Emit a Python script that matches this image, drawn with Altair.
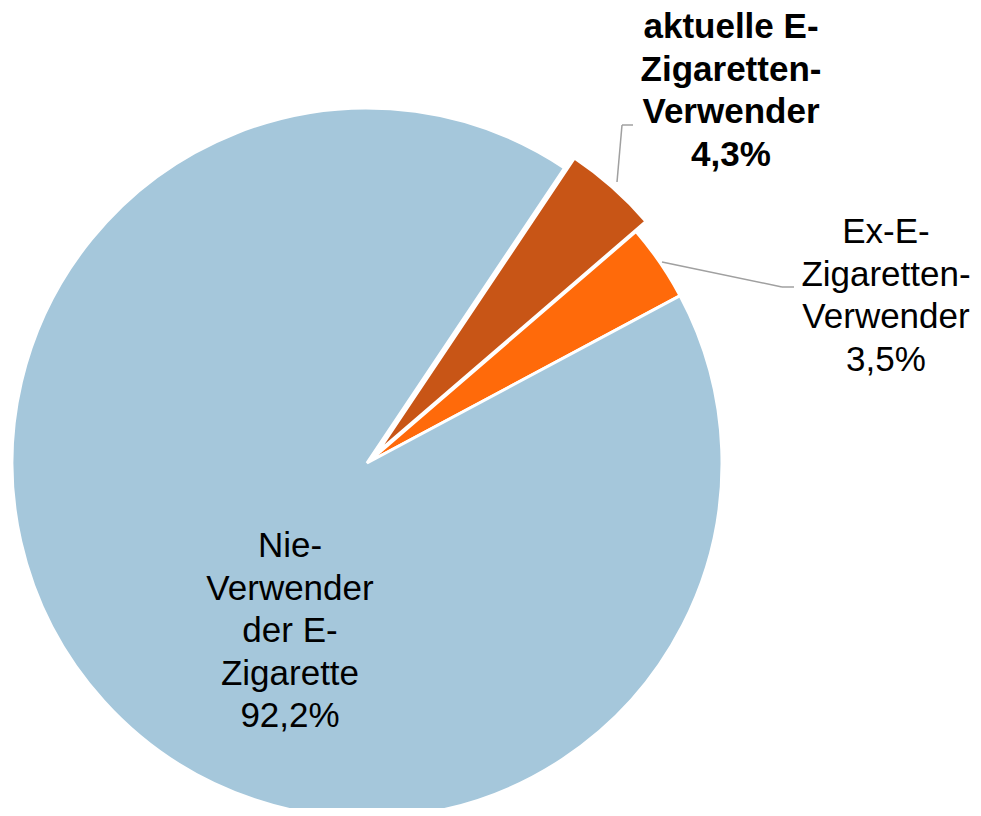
import altair as alt
import pandas as pd
import math

categories = ["aktuelle E-Zigaretten-Verwender", "Ex-E-Zigaretten-Verwender", "Nie-Verwender der E-Zigarette"]
values = [4.3, 3.5, 92.2]
order_idx = [0, 1, 2]
colors = ["#C85516", "#FF6A0A", "#A5C7DB"]

label_nie = "Nie-\nVerwender\nder E-\nZigarette\n92,2%"
label_akt = "aktuelle E-\nZigaretten-\nVerwender\n4,3%"
label_ex = "Ex-E-\nZigaretten-\nVerwender\n3,5%"

df = pd.DataFrame({"cat": categories, "value": values, "idx": order_idx})

start = math.radians(33.8)
theta_scale = alt.Scale(range=[start, start + 2 * math.pi])
color_scale = alt.Scale(domain=categories, range=colors)

CX, CY, R = 359, 455, 355

theta = alt.Theta("value:Q", stack=True, scale=theta_scale)
color = alt.Color("cat:N", scale=color_scale, legend=None)
order = alt.Order("idx:Q")

base = alt.Chart(df)

pie = base.mark_arc(radius=R, stroke="white", strokeWidth=3).encode(
    theta=theta, color=color, order=order,
    x=alt.value(CX), y=alt.value(CY),
    opacity=alt.condition(alt.datum.cat == categories[0], alt.value(0), alt.value(1)),
)

exploded = base.mark_arc(radius=R, stroke="white", strokeWidth=3).encode(
    theta=theta, color=color, order=order,
    x=alt.value(CX + 10), y=alt.value(CY - 10),
    opacity=alt.condition(alt.datum.cat == categories[0], alt.value(1), alt.value(0)),
)

def label(text, x, y, bold=False):
    return alt.Chart(pd.DataFrame({"t": [text]})).mark_text(
        font="Liberation Sans", fontSize=35, lineBreak="\n", lineHeight=42.5,
        align="center", baseline="alphabetic", color="black",
        fontWeight="bold" if bold else "normal",
    ).encode(text="t:N", x=alt.value(x), y=alt.value(y))

t_nie = label(label_nie, 282, 549)
t_akt = label(label_akt, 723, 30, bold=True)
t_ex = label(label_ex, 878, 235)

lc = "#A0A0A0"
def seg(x1, y1, x2, y2):
    return alt.Chart(pd.DataFrame({"a": [0]})).mark_rule(color=lc, strokeWidth=1.5).encode(
        x=alt.value(x1), y=alt.value(y1), x2=alt.value(x2), y2=alt.value(y2))

lines = [
    seg(609, 174, 614, 117), seg(614, 117, 625, 117),
    seg(654, 254, 774, 279), seg(774, 279, 786, 279),
]

chart = alt.layer(pie, exploded, *lines, t_nie, t_akt, t_ex).properties(
    width=965, height=800, autosize=alt.AutoSizeParams(type="none"), padding=0
).configure_view(stroke=None)

chart.save("out.html", embed_options={"renderer": "svg", "actions": False})
